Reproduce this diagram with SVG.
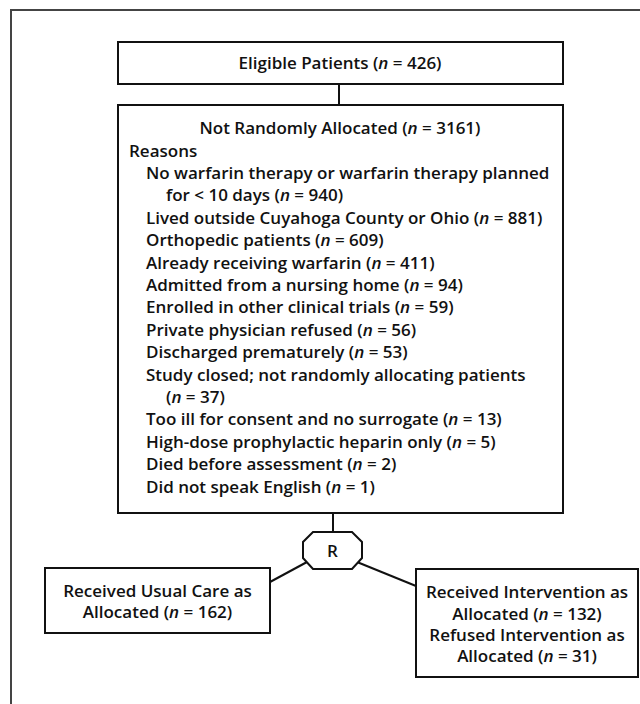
<svg xmlns="http://www.w3.org/2000/svg" width="640" height="704" viewBox="0 0 640 704">
<style>
.box{fill:#fff;stroke:#111;stroke-width:2}
.ln{fill:none;stroke:#111;stroke-width:2}
.t{font-family:"Open Sans","Noto Sans",sans-serif;font-weight:600;font-size:17px;fill:#111}
.c{text-anchor:middle}
.i{font-style:italic}
</style>
<rect width="640" height="704" fill="#fff"/>
<path d="M11,704 V10 H640" fill="none" stroke="#444" stroke-width="2"/>
<g id="connectors">
<line class="ln" x1="339" y1="84" x2="339" y2="105"/>
<line class="ln" x1="333" y1="513" x2="333" y2="532"/>
<line class="ln" x1="270" y1="582" x2="307" y2="562"/>
<line class="ln" x1="357" y1="562" x2="416" y2="586"/>
</g>
<g id="eligible">
<rect class="box" x="118" y="42" width="445" height="42"/>
<text class="t c" x="340" y="69">Eligible Patients (<tspan class="i">n</tspan> = 426)</text>
</g>
<g id="not-allocated">
<rect class="box" x="118" y="105" width="445" height="408"/>
<text class="t c" x="340" y="134">Not Randomly Allocated (<tspan class="i">n</tspan> = 3161)</text>
<text class="t" x="129" y="157">Reasons</text>
<text class="t" x="146" y="179">No warfarin therapy or warfarin therapy planned</text>
<text class="t" x="166" y="201.4">for &lt; 10 days (<tspan class="i">n</tspan> = 940)</text>
<text class="t" x="146" y="223.8">Lived outside Cuyahoga County or Ohio (<tspan class="i">n</tspan> = 881)</text>
<text class="t" x="146" y="246.2">Orthopedic patients (<tspan class="i">n</tspan> = 609)</text>
<text class="t" x="146" y="268.6">Already receiving warfarin (<tspan class="i">n</tspan> = 411)</text>
<text class="t" x="146" y="291">Admitted from a nursing home (<tspan class="i">n</tspan> = 94)</text>
<text class="t" x="146" y="313.4">Enrolled in other clinical trials (<tspan class="i">n</tspan> = 59)</text>
<text class="t" x="146" y="335.8">Private physician refused (<tspan class="i">n</tspan> = 56)</text>
<text class="t" x="146" y="358.2">Discharged prematurely (<tspan class="i">n</tspan> = 53)</text>
<text class="t" x="146" y="380.6">Study closed; not randomly allocating patients</text>
<text class="t" x="166" y="403">(<tspan class="i">n</tspan> = 37)</text>
<text class="t" x="146" y="425.4">Too ill for consent and no surrogate (<tspan class="i">n</tspan> = 13)</text>
<text class="t" x="146" y="447.8">High-dose prophylactic heparin only (<tspan class="i">n</tspan> = 5)</text>
<text class="t" x="146" y="470.2">Died before assessment (<tspan class="i">n</tspan> = 2)</text>
<text class="t" x="146" y="492.6">Did not speak English (<tspan class="i">n</tspan> = 1)</text>
</g>
<g id="randomize">
<polygon class="box" points="313,532 352,532 362,542 362,558 352,569 313,569 303,558 303,542"/>
<text class="t c" x="332.5" y="556.5">R</text>
</g>
<g id="usual-care">
<rect class="box" x="45" y="568" width="225" height="65"/>
<text class="t c" x="157.5" y="597">Received Usual Care as</text>
<text class="t c" x="157.5" y="618">Allocated (<tspan class="i">n</tspan> = 162)</text>
</g>
<g id="intervention">
<rect class="box" x="416" y="569" width="222" height="108"/>
<text class="t c" x="527" y="598">Received Intervention as</text>
<text class="t c" x="527" y="619.5">Allocated (<tspan class="i">n</tspan> = 132)</text>
<text class="t c" x="527" y="641">Refused Intervention as</text>
<text class="t c" x="527" y="662">Allocated (<tspan class="i">n</tspan> = 31)</text>
</g>
</svg>
